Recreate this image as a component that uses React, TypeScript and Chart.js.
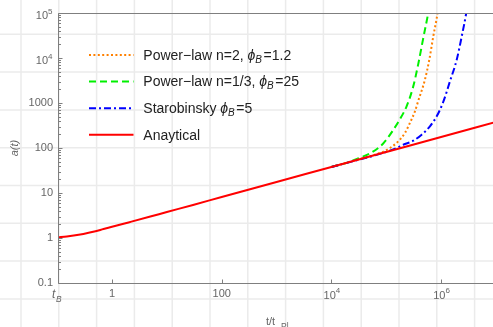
import React, { useEffect, useRef } from "react";
import { Chart, registerables } from "chart.js";

Chart.register(...registerables);

// ---- axis ranges & ticks ----
const T_MIN = 0.1035;
const T_MAX = 8.85e6;
const A_MIN = 0.1;
const A_MAX = 1e5;

const xTickValues = [0.1035, 1, 100, 1e4, 1e6];
const xTickLabels = ["", "1", "100", "10^4", "10^6"];
const yTickValues = [0.1, 1, 10, 100, 1000, 1e4, 1e5];
const yTickLabels = ["0.1", "1", "10", "100", "1000", "10^4", "10^5"];

// ---- series (t, a) ----
const tAnalytical = [0.1035, 0.15, 0.2, 0.3, 0.5, 0.7, 1, 2, 5, 10, 30, 100, 1000, 1e4, 1e5, 1e6, 1e7];
const aAnalytical = [1.04, 1.08, 1.13, 1.23, 1.41, 1.58, 1.77, 2.22, 3.0, 3.78, 5.43, 8.15, 17.6, 37.8, 81.5, 176, 379];

const tPowerN2 = [1e4, 3e4, 7.67e4, 1.17e5, 1.66e5, 2.19e5, 2.7e5, 3.34e5, 3.84e5, 5.08e5, 6.1e5, 7.21e5, 8.53e5, 9.5e5];
const aPowerN2 = [37.8, 55, 77.5, 100, 141, 215, 360, 652, 1120, 3300, 9160, 30200, 91600, 2.5e5];

const tPowerN13 = [1e4, 2e4, 3.16e4, 5.05e4, 8.81e4, 1.34e5, 1.78e5, 2.36e5, 3.11e5, 3.84e5, 4.73e5, 5.83e5, 6.6e5];
const aPowerN13 = [37.8, 48, 59.6, 75.9, 126, 251, 437, 851, 2340, 7410, 27500, 1e5, 2.5e5];

const tStarobinsky = [1e4, 1e5, 1.55e5, 2.04e5, 3.11e5, 4.43e5, 6.27e5, 8.32e5, 1.1e6, 1.45e6, 1.93e6, 2.38e6, 2.84e6, 3.2e6];
const aStarobinsky = [37.8, 82, 100, 118, 145, 198, 303, 505, 1070, 3020, 9160, 30200, 91600, 2.5e5];

// ---- legend text ----
const legendNames = ["Power−law n=2, ", "Power−law n=1/3, ", "Starobinsky ", "Anaytical"];
const legendPhiValues = ["=1.2", "=25", "=5", ""];

const FONT = '"Liberation Sans", Arial, Helvetica, sans-serif';
const AXIS_GRAY = "#7f7f7f";
const LABEL_GRAY = "#666666";

const toPoints = (ts: number[], as: number[]) => ts.map((t, i) => ({ x: t, y: as[i] }));
const plainLabel = (s: string) => (s.includes("^") ? "" : s);

const bgGridPlugin = {
  id: "bgGrid",
  beforeDraw(chart: any) {
    const { ctx, width, height } = chart;
    ctx.save();
    ctx.fillStyle = "#ffffff";
    ctx.fillRect(0, 0, width, height);
    ctx.strokeStyle = "#ebebeb";
    ctx.lineWidth = 1.5;
    ctx.beginPath();
    for (let x = 21; x < width; x += 37.8) {
      ctx.moveTo(x, 0);
      ctx.lineTo(x, height);
    }
    for (let y = 34.3; y < height; y += 37.8) {
      ctx.moveTo(0, y);
      ctx.lineTo(width, y);
    }
    ctx.stroke();
    ctx.restore();
  },
};

const framePlugin = {
  id: "frame",
  afterDatasetsDraw(chart: any) {
    const { ctx, chartArea } = chart;
    const { left, right, top, bottom } = chartArea;
    const xs = chart.scales.x;
    const ys = chart.scales.y;
    ctx.save();
    ctx.strokeStyle = AXIS_GRAY;
    ctx.lineWidth = 1;
    ctx.beginPath();
    const L = Math.round(left) + 0.5;
    const B = Math.round(bottom) + 0.5;
    const T = Math.round(top) + 0.5;
    ctx.moveTo(L, T);
    ctx.lineTo(L, B);
    ctx.lineTo(right, B);
    ctx.moveTo(L, T);
    ctx.lineTo(right, T);
    for (let k = -1; k <= 5; k++) {
      const base = Math.pow(10, k);
      const yp = Math.round(ys.getPixelForValue(base)) + 0.5;
      ctx.moveTo(L, yp);
      ctx.lineTo(L + 4, yp);
      if (k < 5) {
        for (let m = 2; m <= 9; m++) {
          const ym = Math.round(ys.getPixelForValue(m * base)) + 0.5;
          ctx.moveTo(L, ym);
          ctx.lineTo(L + 2.5, ym);
        }
      }
    }
    xTickValues.slice(1).forEach((v) => {
      const xp = Math.round(xs.getPixelForValue(v)) + 0.5;
      ctx.moveTo(xp, B);
      ctx.lineTo(xp, B - 4);
    });
    ctx.stroke();
    ctx.restore();
  },
  afterDraw(chart: any) {
    const { ctx, chartArea } = chart;
    const xs = chart.scales.x;
    const ys = chart.scales.y;
    ctx.save();
    ctx.fillStyle = LABEL_GRAY;
    ctx.textBaseline = "alphabetic";

    // power-of-ten tick labels (base + superscript)
    yTickLabels.forEach((lab, i) => {
      if (!lab.includes("^")) return;
      const [b, e] = lab.split("^");
      const yp = ys.getPixelForValue(yTickValues[i]);
      const rightEdge = chartArea.left - 5.5;
      ctx.font = `8px ${FONT}`;
      ctx.textAlign = "right";
      ctx.fillText(e, rightEdge, yp + 1);
      const ew = ctx.measureText(e).width;
      ctx.font = `11px ${FONT}`;
      ctx.fillText(b, rightEdge - ew, yp + 5.7);
    });
    xTickLabels.forEach((lab, i) => {
      if (!lab.includes("^")) return;
      const [b, e] = lab.split("^");
      const xp = xs.getPixelForValue(xTickValues[i]);
      ctx.font = `11px ${FONT}`;
      const bw = ctx.measureText(b).width;
      ctx.font = `8px ${FONT}`;
      const ew = ctx.measureText(e).width;
      const x0 = xp - (bw + ew) / 2 + 0.5;
      ctx.textAlign = "left";
      ctx.font = `11px ${FONT}`;
      ctx.fillText(b, x0, 298.5);
      ctx.font = `8px ${FONT}`;
      ctx.fillText(e, x0 + bw, 292.5);
    });

    // t_B tick label
    const xb = xs.getPixelForValue(T_MIN);
    ctx.textAlign = "left";
    ctx.font = `italic 12px ${FONT}`;
    ctx.fillText("t", xb - 6, 297.5);
    ctx.font = `italic 8.5px ${FONT}`;
    ctx.fillText("B", xb - 2, 301.5);
    // x title
    ctx.font = `11px ${FONT}`;
    ctx.fillText("t/t", 266, 325);
    ctx.font = `8.5px ${FONT}`;
    ctx.fillText("Pl", 281, 329);
    // y title
    ctx.translate(17.5, 148);
    ctx.rotate(-Math.PI / 2);
    ctx.textAlign = "center";
    ctx.font = `italic 11px ${FONT}`;
    ctx.fillText("a(t)", 0, 0);
    ctx.restore();

    // legend
    ctx.save();
    [0, 1, 2, 3].forEach((di, i) => {
      const ds = chart.data.datasets[di];
      const yRow = 55 + i * 26.6;
      ctx.beginPath();
      ctx.strokeStyle = ds.borderColor;
      ctx.lineWidth = 2;
      ctx.setLineDash(ds.borderDash || []);
      ctx.moveTo(89, yRow);
      ctx.lineTo(133.5, yRow);
      ctx.stroke();
      ctx.setLineDash([]);
      ctx.fillStyle = "#222222";
      ctx.textBaseline = "middle";
      ctx.textAlign = "left";
      const ty = yRow + 1;
      let x = 143.3;
      ctx.font = `14px ${FONT}`;
      ctx.fillText(legendNames[i], x, ty);
      x += ctx.measureText(legendNames[i]).width;
      if (legendPhiValues[i]) {
        ctx.font = `italic 14px ${FONT}`;
        ctx.fillText("ϕ", x, ty);
        x += ctx.measureText("ϕ").width;
        ctx.font = `italic 10px ${FONT}`;
        ctx.fillText("B", x, ty + 4);
        x += ctx.measureText("B").width + 1.5;
        ctx.font = `14px ${FONT}`;
        ctx.fillText(legendPhiValues[i], x, ty);
      }
    });
    ctx.restore();
  },
};

export default function App() {
  const ref = useRef<HTMLCanvasElement | null>(null);

  useEffect(() => {
    if (!ref.current) return;
    const common = { borderWidth: 2, pointRadius: 0, cubicInterpolationMode: "monotone" };
    const chart = new Chart(ref.current, {
      type: "line",
      data: {
        datasets: [
          {
            label: "Power−law n=2, ϕB=1.2",
            data: toPoints(tPowerN2, aPowerN2),
            borderColor: "#FF8000",
            borderDash: [2, 2.4],
            order: 2,
            ...common,
          },
          {
            label: "Power−law n=1/3, ϕB=25",
            data: toPoints(tPowerN13, aPowerN13),
            borderColor: "#00F000",
            borderDash: [7, 4],
            order: 3,
            ...common,
          },
          {
            label: "Starobinsky ϕB=5",
            data: toPoints(tStarobinsky, aStarobinsky),
            borderColor: "#0000FF",
            borderDash: [7, 3, 2, 3],
            order: 1,
            ...common,
          },
          {
            label: "Anaytical",
            data: toPoints(tAnalytical, aAnalytical),
            borderColor: "#FF0000",
            order: 0,
            ...common,
          },
        ],
      },
      options: {
        animation: false,
        responsive: false,
        devicePixelRatio: 1,
        layout: { padding: { top: 13, right: 0, left: 0, bottom: 0 } },
        plugins: { legend: { display: false }, tooltip: { enabled: false } },
        scales: {
          x: {
            type: "logarithmic",
            min: T_MIN,
            max: T_MAX,
            grid: { display: false, drawTicks: false },
            border: { display: false },
            afterBuildTicks: (s: any) => {
              s.ticks = xTickValues.map((v) => ({ value: v }));
            },
            afterFit: (s: any) => {
              s.height = 44;
            },
            ticks: {
              autoSkip: false,
              maxRotation: 0,
              padding: 4,
              color: LABEL_GRAY,
              font: { family: FONT, size: 11 },
              callback: (_v: any, i: number) => plainLabel(xTickLabels[i]),
            },
          },
          y: {
            type: "logarithmic",
            min: A_MIN,
            max: A_MAX,
            grid: { display: false, drawTicks: false },
            border: { display: false },
            afterBuildTicks: (s: any) => {
              s.ticks = yTickValues.map((v) => ({ value: v }));
            },
            afterFit: (s: any) => {
              s.width = 58;
            },
            ticks: {
              autoSkip: false,
              padding: 5,
              color: LABEL_GRAY,
              font: { family: FONT, size: 11 },
              callback: (_v: any, i: number) => plainLabel(yTickLabels[i]),
            },
          },
        },
      },
      plugins: [bgGridPlugin, framePlugin],
    } as any);
    return () => chart.destroy();
  }, []);

  return (
    <div style={{ position: "absolute", left: 0, top: 0, width: 493, height: 327 }}>
      <canvas ref={ref} width={493} height={327} style={{ width: 493, height: 327, display: "block" }} />
    </div>
  );
}
